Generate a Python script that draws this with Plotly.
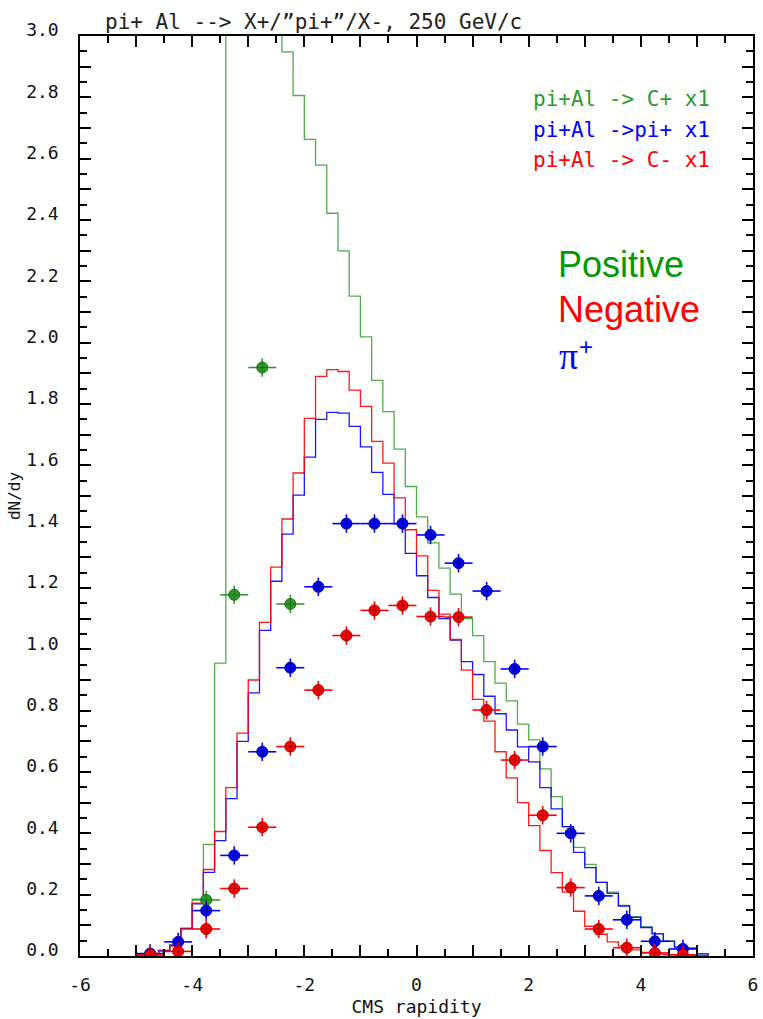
import plotly.graph_objects as go

# ---------------- data ----------------
# histogram bins: 0.2 wide, from -5.0 to 5.2
bin_start = -5.0
bin_width = 0.2

# Monte-Carlo histograms (dN/dy per bin)
hist_pos = [0.004, 0.008, 0.018, 0.036, 0.090, 0.185, 0.364, 0.955, 6.5, 5.2,
            4.3, 3.6, 3.2, 2.948, 2.806, 2.663, 2.579, 2.422, 2.299, 2.152,
            2.019, 1.877, 1.775, 1.653, 1.531, 1.432, 1.347, 1.265, 1.180, 1.100,
            1.045, 0.960, 0.890, 0.832, 0.756, 0.705, 0.610, 0.520, 0.422, 0.354,
            0.299, 0.240, 0.208, 0.165, 0.128, 0.095, 0.073, 0.049, 0.030, 0.026,
            0.007]
hist_pip = [0.004, 0.008, 0.018, 0.035, 0.090, 0.170, 0.273, 0.376, 0.513, 0.700,
            0.858, 1.062, 1.222, 1.376, 1.503, 1.627, 1.750, 1.773, 1.770, 1.727,
            1.660, 1.577, 1.505, 1.409, 1.313, 1.240, 1.169, 1.100, 1.030, 0.960,
            0.918, 0.847, 0.790, 0.737, 0.682, 0.633, 0.549, 0.480, 0.422, 0.338,
            0.288, 0.240, 0.204, 0.163, 0.126, 0.093, 0.072, 0.048, 0.029, 0.026,
            0.007]
hist_neg = [0.004, 0.006, 0.016, 0.032, 0.088, 0.172, 0.282, 0.406, 0.549, 0.727,
            0.900, 1.088, 1.268, 1.425, 1.575, 1.753, 1.890, 1.912, 1.906, 1.845,
            1.792, 1.678, 1.607, 1.494, 1.390, 1.305, 1.192, 1.115, 1.032, 0.932,
            0.837, 0.766, 0.666, 0.581, 0.500, 0.425, 0.344, 0.272, 0.208, 0.146,
            0.097, 0.071, 0.046, 0.033, 0.020, 0.012, 0.006, 0.004, 0.003, 0.002,
            0.001]

# measured points
pos_x = [-3.75, -3.25, -2.75, -2.25]
pos_y = [0.183, 1.178, 1.919, 1.148]

pts_x = [-4.75, -4.25, -3.75, -3.25, -2.75, -2.25, -1.75, -1.25, -0.75, -0.25,
         0.25, 0.75, 1.25, 1.75, 2.25, 2.75, 3.25, 3.75, 4.25, 4.75]
pip_y = [0.008, 0.046, 0.148, 0.328, 0.666, 0.940, 1.204, 1.410, 1.410, 1.410,
         1.373, 1.281, 1.190, 0.936, 0.683, 0.400, 0.196, 0.118, 0.048, 0.023]
neg_y = [0.003, 0.015, 0.088, 0.220, 0.420, 0.683, 0.867, 1.045, 1.127, 1.143,
         1.107, 1.105, 0.802, 0.639, 0.459, 0.223, 0.088, 0.027, 0.010, 0.004]

x_half_width = 0.25
y_err = 0.03

# long ticks (labels only on every second one)
x_tick_vals = [-6, -5, -4, -3, -2, -1, 0, 1, 2, 3, 4, 5, 6]
x_tick_text = ["-6", "", "-4", "", "-2", "", "0", "", "2", "", "4", "", "6"]
y_tick_vals = [0.0, 0.1, 0.2, 0.3, 0.4, 0.5, 0.6, 0.7, 0.8, 0.9, 1.0, 1.1, 1.2, 1.3, 1.4, 1.5,
               1.6, 1.7, 1.8, 1.9, 2.0, 2.1, 2.2, 2.3, 2.4, 2.5, 2.6, 2.7, 2.8, 2.9, 3.0]
y_tick_text = ["0.0", "", "0.2", "", "0.4", "", "0.6", "", "0.8", "", "1.0", "", "1.2", "",
               "1.4", "", "1.6", "", "1.8", "", "2.0", "", "2.2", "", "2.4", "", "2.6", "",
               "2.8", "", "3.0"]

title_text = "pi+ Al --> X+/\u201dpi+\u201d/X-, 250 GeV/c"
x_title = "CMS rapidity"
y_title = "dN/dy"

# ---------------- styles ----------------
GREEN_H = "#3fa33f"
GREEN_P = "#2e9a2e"
BLUE = "#0000ff"
RED = "#ff0000"
MONO = "DejaVu Sans Mono"

edges = [round(bin_start + bin_width * i, 2) for i in range(len(hist_pos) + 1)]


def step_trace(vals, color):
    xs = [edges[0]] + edges + [edges[-1]]
    ys = [0] + list(vals) + [vals[-1]] + [0]
    return go.Scatter(x=xs, y=ys, mode="lines", line=dict(color=color, width=1.3, shape="hv"),
                      opacity=0.9, hoverinfo="skip")


def point_trace(xs, ys, color, line_color):
    return go.Scatter(
        x=xs, y=ys, mode="markers",
        marker=dict(symbol="circle-cross", size=11, color=color,
                    line=dict(color=line_color, width=1)),
        error_x=dict(type="constant", value=x_half_width, color=color, thickness=1.6, width=0),
        error_y=dict(type="constant", value=y_err, color=color, thickness=1.6, width=0),
    )


fig = go.Figure()
fig.add_trace(step_trace(hist_pos, GREEN_H))
fig.add_trace(step_trace(hist_pip, BLUE))
fig.add_trace(step_trace(hist_neg, RED))
fig.add_trace(point_trace(pos_x, pos_y, GREEN_P, "#1d6f1d"))
fig.add_trace(point_trace(pts_x, pip_y, BLUE, "#00009a"))
fig.add_trace(point_trace(pts_x, neg_y, RED, "#b00000"))

# pixel geometry of plotting area
L, R, T, B = 80, 758, 36, 956
W, H = 763, 1019


def px(x):
    return (x - L) / (R - L)


def py(y):
    return (B - y) / (B - T)


axis_common = dict(
    showgrid=False, zeroline=False, showline=True, linecolor="black", linewidth=1.5,
    mirror="allticks", ticks="inside", tickcolor="black", tickwidth=1.5, ticklen=11,
    tickfont=dict(family=MONO, size=18, color="#111"),
)

fig.update_layout(
    title=dict(text=title_text, x=105 / W, xanchor="left", xref="container",
               y=1 - 22 / H, yanchor="middle", yref="container",
               font=dict(family=MONO, size=21, color="#222")),
    xaxis=dict(range=[-6, 6], tickmode="array", tickvals=x_tick_vals, ticktext=x_tick_text,
               minor=dict(dtick=0.5, tick0=0, ticks="inside", ticklen=7, tickcolor="black", tickwidth=1.5),
               ticklabelstandoff=12,
               title=dict(text=x_title, font=dict(family=MONO, size=18, color="#111"), standoff=6),
               **axis_common),
    yaxis=dict(range=[0, 3], tickmode="array", tickvals=y_tick_vals, ticktext=y_tick_text,
               minor=dict(dtick=0.05, tick0=0, ticks="inside", ticklen=7, tickcolor="black", tickwidth=1.5),
               ticklabelstandoff=16, ticklabelshift=-6,
               title=dict(text=y_title, font=dict(family=MONO, size=16, color="#111"), standoff=2),
               **axis_common),
)

ann = []
ann.append(dict(text="pi+Al -> C+ x1", x=px(534), y=py(99), xanchor="left", yanchor="middle",
                font=dict(family=MONO, size=21, color=GREEN_P)))
ann.append(dict(text="pi+Al ->pi+ x1", x=px(534), y=py(130), xanchor="left", yanchor="middle",
                font=dict(family=MONO, size=21, color=BLUE)))
ann.append(dict(text="pi+Al -> C- x1", x=px(534), y=py(160), xanchor="left", yanchor="middle",
                font=dict(family=MONO, size=21, color=RED)))
ann.append(dict(text="Positive", x=px(560), y=py(264), xanchor="left", yanchor="middle",
                font=dict(family="Liberation Sans", size=36, color="#009900")))
ann.append(dict(text="Negative", x=px(560), y=py(310), xanchor="left", yanchor="middle",
                font=dict(family="Liberation Sans", size=36, color=RED)))
ann.append(dict(text="\u03c0", x=px(561), y=py(356), xanchor="left", yanchor="middle",
                font=dict(family="Liberation Serif", size=38, color=BLUE)))
ann.append(dict(text="+", x=px(581), y=py(346), xanchor="left", yanchor="middle",
                font=dict(family="Liberation Sans", size=24, color=BLUE)))
for a in ann:
    a.update(xref="paper", yref="paper", showarrow=False)

fig.update_layout(width=W, height=H, margin=dict(l=L, r=W - R, t=T, b=H - B),
                  plot_bgcolor="white", paper_bgcolor="white", showlegend=False,
                  annotations=ann)

fig.write_html("out.html")
